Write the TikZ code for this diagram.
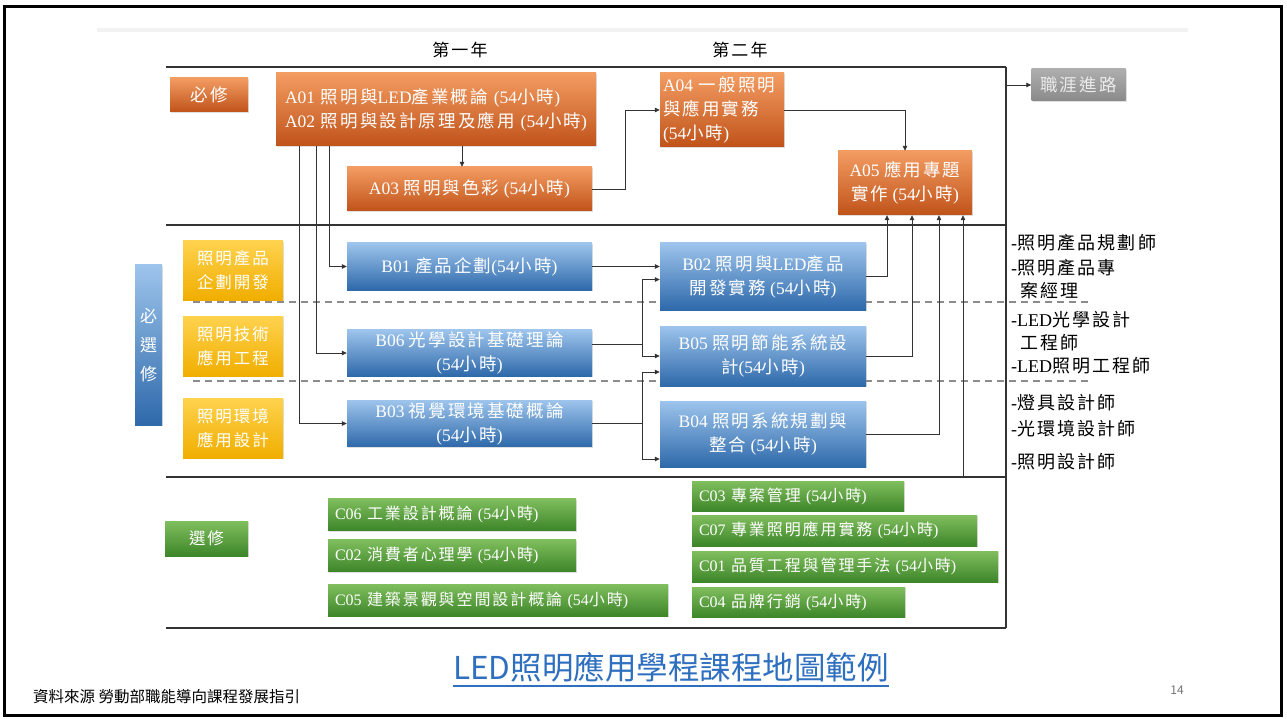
\documentclass[tikz,border=0pt]{standalone}
\usepackage{fontspec}
\setmainfont{Liberation Serif}
\newfontfamily\cjkf[LetterSpace=12]{Noto Sans CJK TC}
\newfontfamily\cjkplain{Noto Sans CJK TC}
\usetikzlibrary{arrows.meta,shadows,calc}
\newXeTeXintercharclass\mycjk
\newcount\mycnt
\mycnt="3000
\loop
  \XeTeXcharclass\mycnt=\mycjk
  \ifnum\mycnt<"9FFF \advance\mycnt by 1
\repeat
\mycnt="FF00
\loop
  \XeTeXcharclass\mycnt=\mycjk
  \ifnum\mycnt<"FFEF \advance\mycnt by 1
\repeat
\XeTeXinterchartoks 0 \mycjk = {\cjkf}
\XeTeXinterchartoks 4095 \mycjk = {\cjkf}
\XeTeXinterchartoks \mycjk 0 = {\rmfamily}
\XeTeXinterchartoks \mycjk 4095 = {\rmfamily}
\XeTeXinterchartokenstate=1
\definecolor{orT}{HTML}{F39C62}
\definecolor{orB}{HTML}{C0531A}
\definecolor{blT}{HTML}{9DC4EC}
\definecolor{blB}{HTML}{2E69AA}
\definecolor{yeT}{HTML}{FFD24E}
\definecolor{yeB}{HTML}{F0AE00}
\definecolor{grT}{HTML}{80BE5E}
\definecolor{grB}{HTML}{3D8629}
\definecolor{gyT}{HTML}{AEAEAE}
\definecolor{gyB}{HTML}{8A8A8A}
\definecolor{ttl}{HTML}{2E6FC0}
\definecolor{lin}{HTML}{333333}
\begin{document}
\begin{tikzpicture}[x=1pt,y=-1pt,
  box/.style={inner xsep=4pt, inner ysep=2pt, align=center, text=white,
    font=\fontsize{17.5}{24}\selectfont,
    drop shadow={opacity=0.25,shadow xshift=1.2pt,shadow yshift=-1.2pt}},
  obox/.style={box, top color=orT, bottom color=orB},
  bbox/.style={box, top color=blT, bottom color=blB},
  ybox/.style={box, top color=yeT, bottom color=yeB, font=\fontsize{16.5}{24}\selectfont},
  gbox/.style={box, top color=grT, bottom color=grB, align=left, inner xsep=7pt,
    font=\fontsize{16}{20}\selectfont, minimum height=32pt},
  graybox/.style={box, top color=gyT, bottom color=gyB, text=white!92!black},
  arr/.style={draw=lin, line width=0.8pt, -{Triangle[length=5pt,width=4.5pt]}},
  con/.style={draw=lin, line width=0.8pt},
  sec/.style={draw=lin, line width=2pt},
  dsh/.style={draw=black!45, line width=1.2pt, dash pattern=on 7pt off 5pt},
  job/.style={anchor=west, inner sep=0pt, font=\fontsize{18}{20}\selectfont, text=black},
  yr/.style={font=\fontsize{17}{20}\selectfont, text=black}
]
\useasboundingbox (0,0) rectangle (1287,719);
\fill[white] (0,0) rectangle (1287,719);
\draw[black, line width=3pt] (4,7) rectangle (1281,715);
\fill[black!5] (97,28) rectangle (1188,32);

% section lines
\draw[sec] (166,67) -- (1006,67);
\draw[sec] (166,225) -- (1006,225);
\draw[sec] (166,477) -- (1006,477);
\draw[sec, line width=2.5pt] (166,628) -- (1006,628);
\draw[draw=lin, line width=1.6pt] (1006,67) -- (1006,628);
\draw[dsh] (193,302) -- (1092,302);
\draw[dsh] (193,381) -- (1092,381);

% year labels
\node[yr] (y1) at (460,50) {第一年};
\node[yr] (y2) at (740,50) {第二年};

% required
\node[obox, minimum width=78pt, minimum height=34pt] (bx) at (209,95) {必修};
\node[obox, text width=302pt, align=left, inner xsep=9pt, minimum height=73pt] (A01) at (436,109.5)
  {A01 照明與LED產業概論 (54小時)\\A02 照明與設計原理及應用 (54小時)};
\node[obox, minimum width=245pt, minimum height=44pt] (A03) at (469.5,189) {A03 照明與色彩 (54小時)};
\node[obox, text width=118pt, align=left, inner xsep=3pt, minimum height=74pt] (A04) at (722,110)
  {A04 一般照明\\與應用實務\\(54小時)};
\node[obox, minimum width=134pt, minimum height=64pt] (A05) at (905,183) {A05 應用專題\\實作 (54小時)};
\node[graybox, minimum width=94pt, minimum height=32pt] (car) at (1078.5,85) {職涯進路};

% elective-required
\node[bbox, minimum width=27pt, minimum height=160pt, inner xsep=1pt, font=\fontsize{17}{29}\selectfont] (bxx) at (148.5,345) {必\\選\\修};
\node[ybox, minimum width=100pt, minimum height=59pt] (Y1) at (233,270.5) {照明產品\\企劃開發};
\node[ybox, minimum width=100pt, minimum height=60pt] (Y2) at (233,346) {照明技術\\應用工程};
\node[ybox, minimum width=100pt, minimum height=60pt] (Y3) at (233,428) {照明環境\\應用設計};
\node[bbox, minimum width=245pt, minimum height=47pt] (B01) at (469.5,266.5) {B01 產品企劃(54小時)};
\node[bbox, minimum width=245pt, minimum height=46pt] (B06) at (469.5,353) {B06 光學設計基礎理論\\(54小時)};
\node[bbox, minimum width=245pt, minimum height=45pt] (B03) at (469.5,423.5) {B03 視覺環境基礎概論\\(54小時)};
\node[bbox, minimum width=206pt, minimum height=67pt] (B02) at (763,276.5) {B02 照明與LED產品\\開發實務 (54小時)};
\node[bbox, minimum width=206pt, minimum height=60pt] (B05) at (763,356) {B05 照明節能系統設\\計(54小時)};
\node[bbox, minimum width=206pt, minimum height=66pt] (B04) at (763,434) {B04 照明系統規劃與\\整合 (54小時)};

% careers
\node[job] (r1) at (1011,243) {-照明產品規劃師};
\node[job] (r2) at (1011,268) {-照明產品專};
\node[job] (r3) at (1011,291) {\hspace{9pt}案經理};
\node[job] (r4) at (1011,320) {-LED光學設計};
\node[job] (r5) at (1011,343) {\hspace{9pt}工程師};
\node[job] (r6) at (1011,366) {-LED照明工程師};
\node[job] (r7) at (1011,403) {-燈具設計師};
\node[job] (r8) at (1011,429) {-光環境設計師};
\node[job] (r9) at (1011,462) {-照明設計師};

% electives
\node[box, top color=grT, bottom color=grB, font=\fontsize{16.5}{20}\selectfont, minimum width=83pt, minimum height=35pt] (xx) at (206.5,538.5) {選修};
\node[gbox, text width=234pt] (C06) at (452,514.5) {C06 工業設計概論 (54小時)};
\node[gbox, text width=234pt] (C02) at (452,555.5) {C02 消費者心理學 (54小時)};
\node[gbox, text width=326pt] (C05) at (498,600) {C05 建築景觀與空間設計概論 (54小時)};
\node[gbox, text width=198pt, minimum height=30pt] (C03) at (798,496) {C03 專案管理 (54小時)};
\node[gbox, text width=271pt, minimum height=31pt] (C07) at (834.5,530.5) {C07 專業照明應用實務 (54小時)};
\node[gbox, text width=292pt, minimum height=31pt] (C01) at (845,566.5) {C01 品質工程與管理手法 (54小時)};
\node[gbox, text width=199pt, minimum height=30pt] (C04) at (798.5,602) {C04 品牌行銷 (54小時)};

% helper coordinates
\coordinate (xa) at (462,0);
\coordinate (xb) at (625,0);
\coordinate (xc) at (329,0);
\coordinate (xd) at (316,0);
\coordinate (xe) at (299,0);
\coordinate (jx) at (642,0);
\coordinate (q1) at (887,0);
\coordinate (q2) at (912,0);
\coordinate (q3) at (939,0);
\coordinate (el) at (963,477);
\coordinate (cv) at (1006,85);
\coordinate (b6o) at ([yshift=9pt]B06.east);
\coordinate (b2i) at ([yshift=-3pt]B02.west);
\coordinate (b5i) at ([yshift=-16pt]B05.west);
\coordinate (b4i) at ([yshift=-25pt]B04.west);

% connectors
\draw[arr] (A01.south -| xa) -- (A03.north -| xa);
\draw[arr] (A03.east) -- (A03.east -| xb) |- (A04.west);
\draw[arr] (A04.east) -| (A05.north);
\draw[arr] (cv) -- (car.west);
\draw[arr] (A01.south -| xc) |- (B01.west);
\draw[arr] (A01.south -| xd) |- (B06.west);
\draw[arr] (A01.south -| xe) |- (B03.west);
\draw[arr] (B01.east) -- (B01.east -| B02.west);
\draw[con] (b6o) -- (b6o -| jx);
\draw[arr] (b6o -| jx) |- (b2i);
\draw[arr] (b6o -| jx) |- (B05.west);
\draw[con] (B03.east) -- (B03.east -| jx);
\draw[arr] (B03.east -| jx) |- (b5i);
\draw[arr] (B03.east -| jx) |- (b4i);
\draw[arr] (B02.east) -| (q1 |- A05.south);
\draw[arr] (B05.east) -| (q2 |- A05.south);
\draw[arr] (B04.east) -| (q3 |- A05.south);
\draw[arr] (el) -- (el |- A05.south);

% title and footer
\node[inner sep=0pt, text=ttl, font={\XeTeXinterchartokenstate=0 \cjkplain\fontsize{31.5}{34}\selectfont}] (title) at (671,667) {LED照明應用學程課程地圖範例};
\draw[ttl, line width=1.6pt] ([yshift=-4pt]title.south west) -- ([yshift=-4pt]title.south east);
\node[anchor=west, inner sep=0pt, text=black, font={\XeTeXinterchartokenstate=0 \cjkplain\fontsize{15.5}{18}\selectfont}] (src) at (33,697) {資料來源\ 勞動部職能導向課程發展指引};
\node[inner sep=0pt, text=black!55, font={\XeTeXinterchartokenstate=0 \cjkplain\fontsize{12}{14}\selectfont}] (pg) at (1177,690) {14};
\end{tikzpicture}
\end{document}
